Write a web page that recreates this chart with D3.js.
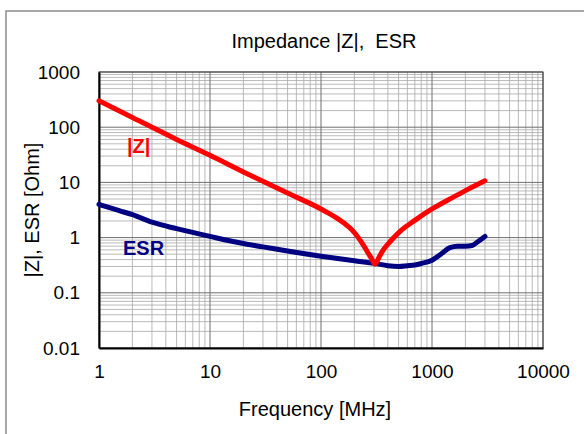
<!DOCTYPE html>
<html>
<head>
<meta charset="utf-8">
<script src="https://cdn.jsdelivr.net/npm/d3@7"></script>
<style>
	body { margin: 0; background: #fff; }
	text { font-family: "Liberation Sans", Arial, sans-serif; fill: #000; }
</style>
</head>
<body>
<div id="chart"></div>
<script>
	// frequency in MHz, values in Ohm
	var zFreq = [1, 2, 5, 10, 20, 50, 100, 130, 160, 190, 215, 240, 262, 285, 306, 335, 364, 420, 515, 700, 1000, 1500, 2000, 3000];
	var zVals = [300, 150, 60, 31, 15.5, 6.4, 3.3, 2.45, 1.85, 1.38, 1.02, 0.74, 0.55, 0.42, 0.33, 0.45, 0.6, 0.85, 1.3, 2.05, 3.3, 5.2, 7.1, 10.7];

	var esrFreq = [1, 1.5, 2, 3, 5, 10, 20, 30, 50, 100, 200, 306, 400, 500, 600, 700, 800, 1000, 1200, 1450, 1700, 2000, 2300, 2600, 3000];
	var esrVals = [4.0, 3.1, 2.6, 1.9, 1.45, 1.05, 0.78, 0.68, 0.57, 0.46, 0.38, 0.34, 0.31, 0.30, 0.31, 0.32, 0.34, 0.39, 0.5, 0.66, 0.7, 0.7, 0.72, 0.85, 1.05];

	var xTicks = [1, 10, 100, 1000, 10000];
	var yTicks = [0.01, 0.1, 1, 10, 100, 1000];

	var width = 584;
	var height = 434;
	var plotLeft = 99, plotRight = 543, plotTop = 72, plotBottom = 348;

	var svg = d3.select('#chart').append('svg').attr('width', width).attr('height', height);

	// outer chart border
	svg.append('rect').attr('x', 6).attr('y', 11).attr('width', 600).attr('height', 450)
		.attr('fill', 'none').attr('stroke', '#8c8c8c').attr('stroke-width', 1.5);

	var x = d3.scaleLog().domain([1, 10000]).range([plotLeft, plotRight]);
	var y = d3.scaleLog().domain([0.01, 1000]).range([plotBottom, plotTop]);

	// minor grid
	var minorX = [], minorY = [];
	xTicks.slice(0, -1).forEach(function(d) {
		for (var k = 2; k < 10; k++) minorX.push(d * k);
	});
	yTicks.slice(0, -1).forEach(function(d) {
		for (var k = 2; k < 10; k++) minorY.push(d * k);
	});

	var grid = svg.append('g');
	grid.selectAll('.mx').data(minorX).enter().append('line')
		.attr('x1', x).attr('x2', x).attr('y1', plotTop).attr('y2', plotBottom)
		.attr('stroke', '#a8a8a8').attr('stroke-width', 0.8);
	grid.selectAll('.my').data(minorY).enter().append('line')
		.attr('y1', y).attr('y2', y).attr('x1', plotLeft).attr('x2', plotRight)
		.attr('stroke', '#a8a8a8').attr('stroke-width', 0.8);
	grid.selectAll('.gx').data(xTicks).enter().append('line')
		.attr('x1', x).attr('x2', x).attr('y1', plotTop).attr('y2', plotBottom)
		.attr('stroke', '#6e6e6e').attr('stroke-width', 1);
	grid.selectAll('.gy').data(yTicks).enter().append('line')
		.attr('y1', y).attr('y2', y).attr('x1', plotLeft).attr('x2', plotRight)
		.attr('stroke', '#6e6e6e').attr('stroke-width', 1);

	svg.append('rect').attr('x', plotLeft).attr('y', plotTop).attr('width', plotRight - plotLeft).attr('height', plotBottom - plotTop)
		.attr('fill', 'none').attr('stroke', '#404040').attr('stroke-width', 1);

	// axes, ticks only as labels
	var xAxis = svg.append('g').attr('transform', 'translate(0,' + plotBottom + ')')
		.call(d3.axisBottom(x).tickValues(xTicks).tickFormat(d3.format('d')).tickSize(0).tickPadding(17));
	var yAxis = svg.append('g').attr('transform', 'translate(' + plotLeft + ',0)')
		.call(d3.axisLeft(y).tickValues(yTicks).tickFormat(function(d) { return d < 1 ? String(d) : d3.format('d')(d); }).tickSize(0).tickPadding(19));
	[xAxis, yAxis].forEach(function(a) {
		a.select('.domain').attr('stroke', '#000').attr('stroke-width', 2);
		a.selectAll('text').attr('font-size', 19).attr('font-family', '"Liberation Sans", Arial, sans-serif').attr('fill', '#000');
	});

	var line = d3.line()
		.x(function(d) { return x(d[0]); })
		.y(function(d) { return y(d[1]); })
		.curve(d3.curveMonotoneX);

	var esrData = d3.zip(esrFreq, esrVals);
	var zData = d3.zip(zFreq, zVals);

	svg.append('path').datum(esrData).attr('d', line)
		.attr('fill', 'none').attr('stroke', '#000080').attr('stroke-width', 5).attr('stroke-linecap', 'round');
	svg.append('path').datum(zData).attr('d', line)
		.attr('fill', 'none').attr('stroke', '#ff0000').attr('stroke-width', 5).attr('stroke-linecap', 'round');

	// series labels
	svg.append('text').attr('x', 127).attr('y', 153).text('|Z|')
		.attr('font-size', 20).attr('font-weight', 'bold').style('fill', '#ff0000');
	svg.append('text').attr('x', 123).attr('y', 255).text('ESR')
		.attr('font-size', 20).attr('font-weight', 'bold').style('fill', '#000080');

	// titles
	svg.append('text').attr('x', 324).attr('y', 48).attr('text-anchor', 'middle')
		.attr('font-size', 20).style('white-space', 'pre').text('Impedance |Z|,  ESR');
	svg.append('text').attr('x', 315).attr('y', 416).attr('text-anchor', 'middle')
		.attr('font-size', 20).text('Frequency [MHz]');
	svg.append('text').attr('transform', 'translate(39,210) rotate(-90)').attr('text-anchor', 'middle')
		.attr('font-size', 20).text('|Z|, ESR [Ohm]');
</script>
</body>
</html>
